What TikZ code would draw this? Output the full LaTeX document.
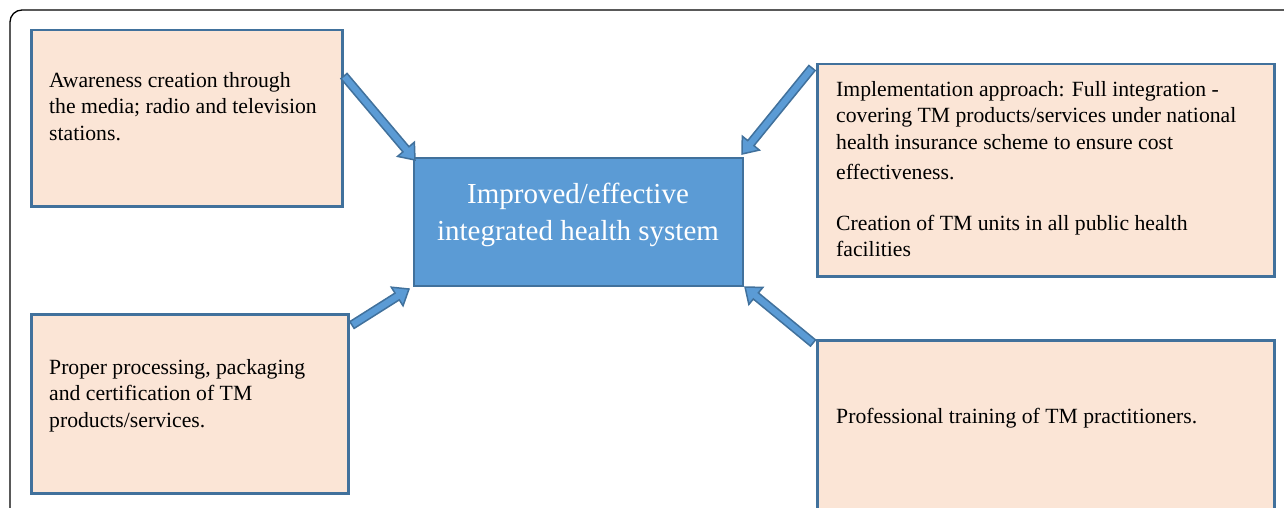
\documentclass[tikz,border=0pt]{standalone}
\usepackage{fontspec}
\setmainfont{Liberation Serif}
\usetikzlibrary{calc}

\definecolor{boxfill}{HTML}{FBE5D6}
\definecolor{boxline}{HTML}{41719C}
\definecolor{hubfill}{HTML}{5B9BD5}

% block arrow from one named point to another
\newcommand{\blockarrow}[2]{%
    \draw[arrowbody] let \p1=($(#2)-(#1)$), \n1={atan2(\y1,\x1)}, \n2={veclen(\x1,\y1)} in
        [shift={(#1)}, rotate=\n1] (0,-4) -- (\n2-14,-4) -- (\n2-14,-11) -- (\n2,0)
        -- (\n2-14,11) -- (\n2-14,4) -- (0,4) -- cycle;}

\begin{document}
\begin{tikzpicture}[x=1pt, y=-1pt,
    box/.style={draw=boxline, line width=2.5pt, fill=boxfill, anchor=north west, inner sep=0pt},
    txt/.style={anchor=north west, align=left, inner sep=0pt, font=\fontsize{21.7}{26.5}\selectfont},
    arrowbody/.style={draw=boxline, fill=hubfill, line width=1.5pt, line join=miter}]
        \clip (0,0) rectangle (1284,508);

        \draw[line width=1.3pt, rounded corners=12pt] (10,520) -- (10,10) -- (1300,10);

        \node[box, minimum width=311pt, minimum height=176pt] (aware) at (30,29) {};
        \node[box, minimum width=317pt, minimum height=179pt] (process) at (30,313) {};
        \node[box, minimum width=457pt, minimum height=212pt] (approach) at (816,63) {};
        \node[box, minimum width=457pt, minimum height=190pt] (training) at (816,339) {};

        \node[draw=boxline, line width=2pt, fill=hubfill, minimum width=329pt, minimum height=128pt,
            inner sep=0pt] (hub) at (578,221.5) {};
        \node[text=white, align=center, inner sep=0pt, font=\fontsize{29}{37}\selectfont]
            (hubtxt) at (578,215) {Improved/effective\\integrated health system};

        \node[txt] (awaretxt) at (49,72) {Awareness creation through\\the media; radio and television\\stations.};
        \node[txt] (processtxt) at (49,359) {Proper processing, packaging\\and certification of TM\\products/services.};
        \node[txt] (approachtxt) at (836,81) {Implementation approach: Full integration -\\covering TM products/services under national\\health insurance scheme to ensure cost\\[4pt]effectiveness.};
        \node[txt] (unitstxt) at (836,215) {Creation of TM units in all public health\\facilities};
        \node[txt] (trainingtxt) at (836,408) {Professional training of TM practitioners.};

        \coordinate (a1) at (344,76);
        \coordinate (a2) at (352,325);
        \coordinate (a3) at (812,68);
        \coordinate (a4) at (813,343);
        \coordinate (h1) at (415,160);
        \coordinate (h2) at (409,289);
        \coordinate (h3) at (742,154);
        \coordinate (h4) at (745,287);

        \blockarrow{a1}{h1}
        \blockarrow{a2}{h2}
        \blockarrow{a3}{h3}
        \blockarrow{a4}{h4}
    \end{tikzpicture}
\end{document}
